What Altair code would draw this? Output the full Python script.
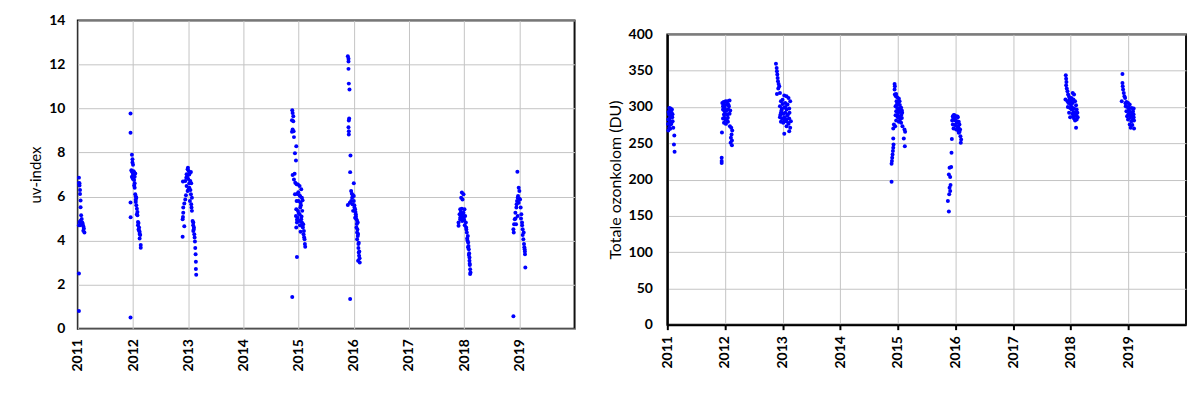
import altair as alt
import pandas as pd

YEARS = [2011, 2012, 2013, 2014, 2015, 2016, 2017, 2018, 2019]
UV_TICKS = [0, 2, 4, 6, 8, 10, 12, 14]
OZ_TICKS = [0, 50, 100, 150, 200, 250, 300, 350, 400]

# ---- UV-index (left panel) ----
UV11_T = [2011.02, 2011.02, 2011.03, 2011.04, 2011.04, 2011.05, 2011.05, 2011.06, 2011.07, 2011.05, 2011.08, 2011.09,
          2011.04, 2011.10, 2011.06, 2011.11, 2011.10, 2011.12, 2011.03, 2011.02, 2011.03, 2011.02, 2011.02]
UV11_V = [6.86, 6.62, 6.5, 6.3, 6.12, 5.82, 5.51, 5.15, 4.98, 4.9, 4.82, 4.75,
          4.7, 4.65, 4.78, 4.55, 4.45, 4.37, 4.85, 4.7, 6.6, 2.5, 0.8]

UV12_T = [2011.955, 2011.955, 2011.955, 2011.957, 2011.955, 2011.98, 2011.99, 2011.99, 2012.00, 2011.97, 2011.98,
          2011.99, 2012.01, 2012.02, 2012.04, 2011.98, 2011.99, 2012.00, 2012.02, 2012.03, 2012.02, 2012.03, 2012.04,
          2012.05, 2012.06, 2012.05, 2012.06, 2012.07, 2012.08, 2012.08, 2012.09, 2012.10, 2012.09, 2012.11, 2012.10,
          2012.12, 2012.12, 2012.13, 2012.12, 2012.14, 2012.14, 2012.00, 2012.03, 2012.05, 2012.07, 2012.11]
UV12_V = [9.77, 8.9, 5.73, 5.06, 0.51, 7.9, 7.7, 7.55, 7.45, 7.2, 7.15,
          7.1, 7.15, 7.1, 7.05, 6.9, 6.85, 6.8, 6.75, 6.6, 6.5, 6.4, 6.1,
          6.0, 5.95, 5.85, 5.6, 5.45, 5.3, 5.15, 4.85, 4.8, 4.7, 4.6, 4.5,
          4.4, 4.3, 4.25, 4.1, 3.8, 3.67, 7.0, 6.9, 5.75, 5.2, 4.45]

UV13_T = [2012.899, 2012.899, 2012.905, 2012.91, 2012.91, 2012.929, 2012.947, 2012.959, 2012.929, 2012.905, 2012.947,
          2012.965, 2012.971, 2012.989, 2012.995, 2013.007, 2013.019, 2013.031, 2013.049, 2012.971, 2012.989, 2013.007,
          2013.019, 2013.037, 2013.055, 2013.049, 2013.067, 2013.031, 2013.055, 2013.067, 2013.08, 2013.092, 2013.104,
          2013.092, 2013.11, 2013.116, 2013.122, 2013.128, 2013.134, 2013.139, 2013.139, 2013.145,
          2012.98, 2013.0, 2013.02, 2013.04, 2013.06, 2013.09, 2013.10]
UV13_V = [4.17, 4.97, 5.07, 5.27, 5.5, 5.69, 5.87, 6.06, 4.65, 6.68, 6.71,
          6.86, 7.01, 7.24, 7.31, 7.16, 7.0, 7.08, 7.12, 6.48, 6.25, 6.33,
          6.6, 6.71, 6.6, 6.1, 5.95, 5.8, 5.65, 5.35, 4.89, 4.82, 4.59,
          4.44, 4.29, 4.14, 3.96, 3.66, 3.38, 3.04, 2.71, 2.45,
          6.9, 6.8, 6.4, 6.3, 5.5, 4.7, 4.5]

UV15_T = [2014.885, 2014.892, 2014.904, 2014.88, 2014.904, 2014.892, 2014.88, 2014.91, 2014.916, 2014.958, 2014.934,
          2014.952, 2014.892, 2014.928, 2014.916, 2014.94, 2014.964, 2014.988, 2015.018, 2015.048, 2014.934, 2014.976,
          2015.018, 2015.06, 2014.964, 2015.0, 2015.036, 2015.072, 2014.958, 2014.988, 2015.03, 2015.066, 2014.952,
          2014.982, 2015.018, 2015.048, 2014.97, 2015.012, 2015.06, 2015.084, 2014.958, 2015.078, 2015.096, 2015.09,
          2015.108, 2015.114, 2015.12, 2014.97, 2014.885,
          2014.994, 2015.03, 2015.042, 2015.0, 2015.054, 2015.024, 2014.97, 2015.066, 2015.036, 2015.10]
UV15_V = [9.92, 9.8, 9.65, 9.47, 9.42, 9.05, 8.94, 8.97, 8.7, 8.28, 7.97,
          7.64, 6.98, 7.04, 6.78, 6.63, 6.56, 6.55, 6.48, 6.33, 6.1, 6.12,
          6.06, 5.95, 5.8, 5.8, 5.72, 5.83, 5.42, 5.35, 5.5, 5.35, 5.12,
          5.04, 5.2, 4.97, 4.82, 4.89, 4.82, 4.74, 4.59, 4.59, 4.44, 4.29,
          4.06, 3.84, 3.72, 3.26, 1.44,
          6.2, 6.0, 5.6, 5.25, 5.1, 4.7, 4.95, 4.65, 4.4, 4.15]

UV16_T = [2015.892, 2015.904, 2015.904, 2015.904, 2015.91, 2015.922, 2015.916, 2015.91, 2015.904, 2015.91, 2015.91,
          2015.94, 2015.934, 2016.0, 2015.952, 2015.964, 2015.982, 2016.0, 2015.892, 2015.928, 2015.952, 2015.976,
          2016.0, 2016.012, 2016.024, 2015.988, 2016.036, 2016.048, 2016.06, 2016.024, 2016.072, 2016.048, 2016.06,
          2016.072, 2016.06, 2016.084, 2016.084, 2016.09, 2016.096, 2016.078, 2016.108, 2015.934,
          2015.97, 2016.01, 2016.03, 2016.04, 2016.055, 2016.066, 2016.078, 2016.09, 2016.10, 2016.105]
UV16_V = [12.37, 12.26, 12.14, 11.8, 11.13, 10.86, 9.55, 9.46, 9.15, 8.97, 8.82,
          7.87, 7.11, 6.6, 6.25, 6.13, 6.07, 6.03, 5.62, 5.72, 5.8, 5.65,
          5.8, 5.5, 5.42, 5.35, 5.2, 4.97, 4.89, 5.04, 4.82, 4.59, 4.37,
          4.21, 4.06, 3.84, 3.66, 3.46, 3.31, 3.08, 3.0, 1.35,
          5.95, 5.6, 5.3, 5.1, 4.75, 4.5, 4.3, 3.9, 3.5, 3.2]

UV18_T = [2017.958, 2017.988, 2017.946, 2017.97, 2017.928, 2017.958, 2018.006, 2017.988, 2017.916, 2017.946, 2017.982,
          2018.018, 2017.898, 2017.928, 2017.964, 2018.0, 2018.03, 2017.898, 2018.036, 2018.048, 2018.066, 2018.054,
          2018.072, 2018.078, 2018.084, 2018.09, 2018.096, 2018.096, 2018.102, 2018.108, 2018.115, 2018.108,
          2017.94, 2017.97, 2017.99, 2017.93, 2018.01, 2018.04, 2018.06, 2018.07, 2018.085, 2018.10]
UV18_V = [6.18, 6.1, 5.95, 5.87, 5.42, 5.45, 5.42, 5.27, 5.2, 5.12, 5.04,
          5.12, 4.82, 4.97, 4.89, 4.94, 4.82, 4.67, 4.59, 4.37, 4.21, 4.09,
          3.91, 3.76, 3.61, 3.43, 3.23, 3.08, 2.89, 2.7, 2.55, 2.48,
          5.3, 5.2, 5.0, 5.05, 4.7, 4.5, 4.0, 3.7, 3.35, 2.95]

UV19_T = [2018.964, 2018.988, 2019.0, 2018.976, 2019.012, 2018.958, 2018.988, 2019.024, 2018.946, 2018.928, 2019.036,
          2018.97, 2018.916, 2019.048, 2018.904, 2018.94, 2018.892, 2019.06, 2019.078, 2018.898, 2019.072, 2019.084,
          2019.096, 2019.102, 2019.108, 2018.892,
          2018.95, 2018.97, 2019.0, 2018.93, 2019.03, 2019.05, 2019.06, 2019.09, 2019.10]
UV19_V = [7.13, 6.4, 6.25, 6.03, 5.87, 5.8, 5.72, 5.5, 5.5, 5.27, 5.2,
          5.12, 4.97, 4.82, 4.74, 4.74, 4.52, 4.52, 4.37, 4.37, 4.06, 3.84,
          3.61, 3.38, 2.78, 0.56,
          5.65, 5.95, 5.9, 5.0, 5.0, 4.7, 4.25, 3.7, 3.5]

# ---- Total ozone column (right panel) ----
OZ11_T = [2011.034, 2011.057, 2011.08, 2011.046, 2011.074, 2011.029, 2011.057, 2011.086, 2011.017, 2011.046,
          2011.092, 2011.011, 2011.057, 2011.034, 2011.103, 2011.017, 2011.121, 2011.115, 2011.126,
          2011.02, 2011.04, 2011.07, 2011.05, 2011.09]
OZ11_V = [298.7, 297.8, 296.4, 294.2, 291.9, 289.6, 287.3, 285.9, 282.7, 280.4,
          280.4, 276.7, 275.9, 271.3, 271.3, 267.6, 260.7, 248.4, 238.2,
          293, 284, 277, 270, 290]

OZ12_T = [2011.943, 2011.943, 2011.943, 2011.948, 2011.954, 2011.977, 2012.011, 2012.046, 2012.08, 2011.966, 2012.0,
          2012.034, 2012.069, 2011.966, 2011.994, 2012.023, 2012.057, 2012.092, 2011.983, 2012.04, 2012.08, 2011.966,
          2012.006, 2012.034, 2011.983, 2012.017, 2012.052, 2012.086, 2012.109, 2012.126, 2012.115, 2012.103, 2012.121,
          2012.098, 2012.121, 2011.97, 2012.0, 2012.03, 2012.05, 2011.99, 2012.06]
OZ12_V = [230, 225.4, 222.7, 264.8, 305.6, 307, 307.9, 307.9, 308.8, 301, 302.4,
          303.3, 301, 296.4, 294.2, 295, 296.4, 295, 289.6, 289.6, 290.6, 284.1,
          282.7, 281.4, 278.1, 276.7, 279.5, 273.5, 271.3, 267.6, 262.1, 257.5, 253.9,
          250.6, 247.4, 305, 298, 290, 285, 285, 303]

OZ13_T = [2012.885, 2012.897, 2012.902, 2012.908, 2012.914, 2012.92, 2012.931, 2012.943, 2012.925, 2012.902, 2012.954,
          2013.029, 2013.069, 2013.103, 2013.132, 2012.971, 2013.0, 2013.046, 2013.086, 2012.954, 2012.989, 2013.029,
          2013.069, 2013.115, 2012.971, 2013.011, 2013.046, 2013.092, 2012.954, 2012.989, 2013.029, 2013.069, 2013.115,
          2012.971, 2013.011, 2013.057, 2013.103, 2013.132, 2013.069, 2013.115, 2013.029, 2013.144,
          2012.98, 2013.0, 2013.05, 2013.08, 2013.10, 2013.02, 2012.96, 2013.12]
OZ13_V = [359.7, 353.7, 349.1, 344.6, 339.9, 335.4, 331.7, 328.5, 325.3, 318, 319.3,
          315.7, 314.8, 312.5, 307.9, 307.9, 304.2, 305.6, 303.3, 301, 297.8, 299.1,
          296.4, 297.8, 291.9, 290.6, 291.9, 289.6, 285.9, 284.1, 285.9, 282.7, 284.1,
          279.5, 278.1, 280.4, 276.7, 271.3, 273.5, 266.7, 263, 280.4,
          295, 310, 300, 288, 278, 283, 289, 292]

OZ15_T = [2014.891, 2014.891, 2014.897, 2014.902, 2014.908, 2014.914, 2014.92, 2014.925, 2014.92, 2014.943, 2014.948,
          2014.943, 2014.948, 2014.966, 2014.989, 2015.017, 2014.977, 2015.006, 2015.034, 2014.96, 2014.989, 2015.023,
          2015.057, 2014.971, 2015.006, 2015.046, 2015.075, 2014.96, 2015.0, 2015.034, 2015.069, 2014.971, 2015.017,
          2015.057, 2014.931, 2014.954, 2015.08, 2014.92, 2015.115, 2015.126, 2015.103, 2015.121,
          2014.98, 2015.01, 2015.04, 2015.06, 2014.99, 2015.03, 2015.07, 2014.97]
OZ15_V = [197, 221.7, 225.4, 230, 234.6, 239.2, 243.7, 248.4, 256.6, 331.7, 328.5,
          324, 317.1, 314.8, 313.4, 311.6, 307.9, 305.6, 302.8, 301, 298.7, 297.8,
          299.1, 294.2, 291.9, 293.3, 291.9, 288.7, 285.9, 286.8, 284.9, 281.4, 279.5,
          278.1, 275.9, 273.5, 273.5, 270.3, 269, 265.8, 256.6, 246,
          303, 296, 283, 289, 289, 308, 295, 318]

OZ16_T = [2015.885, 2015.868, 2015.891, 2015.908, 2015.897, 2015.914, 2015.908, 2015.897, 2015.925, 2015.885, 2015.931,
          2015.937, 2015.954, 2015.983, 2016.011, 2016.04, 2015.943, 2015.971, 2016.0, 2016.029, 2016.057, 2015.954,
          2015.989, 2016.023, 2016.069, 2015.966, 2016.011, 2016.046, 2016.08, 2016.057, 2016.086, 2016.098, 2016.092,
          2015.96, 2015.99, 2016.02, 2016.05, 2016.07, 2016.035, 2015.97]
OZ16_V = [155.8, 170.4, 179.6, 184.2, 188.8, 192.4, 203.4, 216.2, 217.2, 207.1, 236.9,
          255.7, 287.3, 288.7, 287.3, 285.9, 281.4, 282.7, 281.4, 280.4, 279.5, 275.9,
          275.1, 273.5, 275.9, 270.3, 269, 267.6, 269, 264.4, 259.8, 255.2, 250.6,
          285, 283, 278, 272, 266, 287, 289]

OZ18_T = [2017.914, 2017.92, 2017.925, 2017.92, 2017.931, 2017.943, 2017.954, 2018.034, 2018.057, 2017.908, 2017.943,
          2017.977, 2018.011, 2018.046, 2018.075, 2017.96, 2018.0, 2018.034, 2018.092, 2017.989, 2018.017, 2018.057,
          2018.103, 2017.971, 2018.029, 2018.08, 2018.115, 2017.989, 2018.057, 2018.121, 2018.075, 2018.103, 2018.092,
          2017.95, 2018.0, 2018.02, 2018.05, 2018.07, 2018.10, 2017.97, 2018.04]
OZ18_V = [343.6, 339, 334.4, 329.9, 325.3, 321.6, 317.1, 319.3, 317.1, 310.2, 307.9,
          310.2, 312.5, 310.2, 307.9, 305.6, 303.3, 305.6, 302.4, 298.7, 296.4, 297.8,
          296.4, 291.9, 290.6, 291.9, 291.9, 285.9, 284.1, 285.9, 281.4, 282.7, 271.3,
          300, 308, 300, 293, 288, 288, 314, 287]

OZ19_T = [2018.897, 2018.897, 2018.902, 2018.908, 2018.92, 2018.931, 2018.885, 2018.943, 2018.966, 2018.994, 2019.023,
          2018.954, 2019.011, 2019.057, 2019.092, 2018.966, 2019.023, 2019.08, 2018.977, 2019.046, 2019.092, 2018.994,
          2019.052, 2019.098, 2019.023, 2019.069, 2019.04, 2019.098,
          2018.95, 2018.98, 2019.0, 2019.03, 2019.06, 2019.08, 2019.09, 2019.01]
OZ19_V = [345.5, 333.1, 328.5, 324, 319.3, 314.8, 307.9, 312.5, 307, 305.6, 303.3,
          301, 299.1, 298.7, 297.8, 294.2, 293.3, 294.2, 287.3, 288.7, 285.9, 282.7,
          280.4, 281.4, 275.9, 275.1, 271.3, 270.3,
          305, 300, 290, 285, 292, 283, 290, 296]


def build(pairs):
    rows = []
    for ts, vs in pairs:
        for t, v in zip(ts, vs):
            rows.append({"t": t, "v": v})
    return pd.DataFrame(rows)


uv_df = build([(UV11_T, UV11_V), (UV12_T, UV12_V), (UV13_T, UV13_V), (UV15_T, UV15_V),
               (UV16_T, UV16_V), (UV18_T, UV18_V), (UV19_T, UV19_V)])
oz_df = build([(OZ11_T, OZ11_V), (OZ12_T, OZ12_V), (OZ13_T, OZ13_V), (OZ15_T, OZ15_V),
               (OZ16_T, OZ16_V), (OZ18_T, OZ18_V), (OZ19_T, OZ19_V)])

FONT = "Lato"
BLUE = "#0000FF"
xscale = alt.Scale(domain=[2011, 2020], nice=False, zero=False)

left = alt.Chart(uv_df).mark_circle(size=16, color=BLUE, opacity=1).encode(
    x=alt.X("t:Q", scale=xscale,
            axis=alt.Axis(values=YEARS, format="d", labelAngle=270, title=None, ticks=False,
                          domain=False, labelPadding=10, labelFontSize=14, labelFontWeight="bold",
                          grid=True, labelOverlap=False)),
    y=alt.Y("v:Q", scale=alt.Scale(domain=[0, 14], nice=False),
            axis=alt.Axis(values=UV_TICKS, title="uv-index", ticks=False, domain=False,
                          labelPadding=13, labelFontSize=14, labelFontWeight="bold",
                          titleFontSize=15, titleFontWeight="normal", titlePadding=5, grid=True)),
).properties(width=498, height=309)

right = alt.Chart(oz_df).mark_circle(size=16, color=BLUE, opacity=1).encode(
    x=alt.X("t:Q", scale=xscale,
            axis=alt.Axis(values=YEARS, format="d", labelAngle=270, title=None, ticks=True,
                          tickSize=5, tickWidth=2, tickColor="black", domain=True,
                          domainColor="black", domainWidth=2, labelPadding=6,
                          labelFontSize=14, labelFontWeight="bold", grid=True, labelOverlap=False)),
    y=alt.Y("v:Q", scale=alt.Scale(domain=[0, 400], nice=False),
            axis=alt.Axis(values=OZ_TICKS, title="Totale ozonkolom (DU)", ticks=False,
                          domain=True, domainColor="black", domainWidth=2,
                          labelPadding=15, labelFontSize=14, labelFontWeight="bold",
                          titleFontSize=16, titleFontWeight="normal", titlePadding=5, grid=True)),
).properties(width=520, height=291)

# invisible spacer that pushes the right-hand panel down
spacer = alt.Chart(pd.DataFrame({"a": [0]})).mark_point(opacity=0).encode(
    x=alt.X("a:Q", axis=None), y=alt.Y("a:Q", axis=None)
).properties(width=520, height=1, view=alt.ViewConfig(stroke="transparent", strokeWidth=0))

right_col = alt.vconcat(spacer, right, spacing=2)

chart = alt.hconcat(left, right_col, spacing=30).configure(
    padding={"left": 19, "top": 4, "right": 5, "bottom": 5}
).configure_view(
    stroke="#111111", strokeWidth=2
).configure_axis(
    labelFont=FONT, titleFont=FONT, labelColor="black", titleColor="black",
    gridColor="#c4c4c4", gridWidth=1
)

chart.save("out.html", embed_options={"renderer": "svg", "actions": False})
